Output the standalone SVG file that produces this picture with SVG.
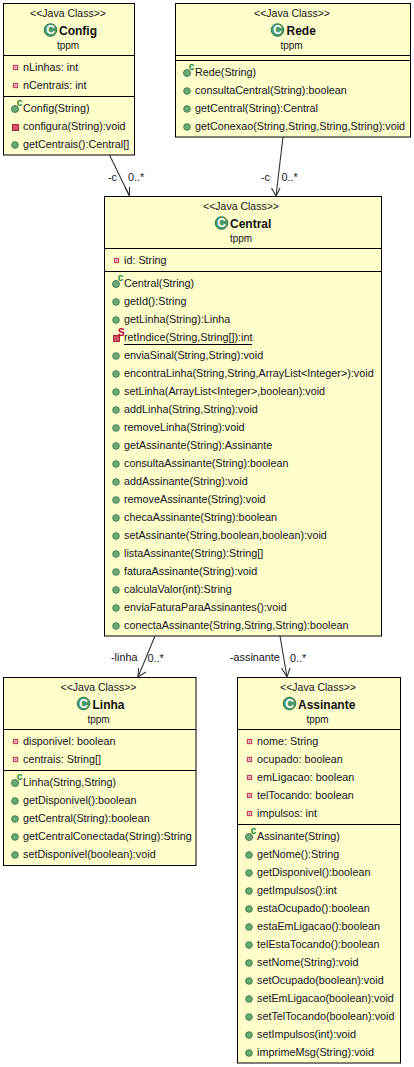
<svg xmlns="http://www.w3.org/2000/svg" width="414" height="1067" viewBox="0 0 414 1067">
<style>
text{font-family:"Liberation Sans",Arial,sans-serif;font-size:10.8px;fill:#14141e}
.box{fill:#ffffcc;stroke:#000;stroke-width:1}
.sep{stroke:#000;stroke-width:1;fill:none}
.m{text-anchor:middle}
.st{font-size:10.5px}
.nm{font-size:12px;font-weight:bold;fill:#111}
.pk{font-size:10px}
.ic{font-size:12px;font-weight:bold;fill:#fff;text-anchor:middle}
.cc{font-size:10px;font-weight:bold;fill:#1a8a3a}
.ss{font-size:10px;font-weight:bold;fill:#c00040}
.conn{stroke:#333;stroke-width:1.1;fill:none}
.ul{stroke:#000;stroke-width:1;fill:none}
</style>
<defs>
<circle id="cls" r="6.3" fill="#4b9a6c" stroke="#2f7a50" stroke-width="1"/>
<circle id="pub" r="3.3" fill="#6fa878" stroke="#3f8058" stroke-width="1"/>
<circle id="ctor" cy="0.500" r="3.5" fill="#6fa878" stroke="#3f8058" stroke-width="1"/>
<g id="pri"><rect x="-2" y="-2" width="4" height="4" fill="#fff" stroke="#c8405a" stroke-width="1.3"/><rect x="-0.700" y="-0.700" width="1.400" height="1.400" fill="#d04060"/></g>
<rect id="prm" x="-3" y="-3" width="6" height="6" fill="#d85068" stroke="#a82840" stroke-width="1"/>
</defs>
<g id="connectors">
<path class="conn" d="M109.500 155 129.500 196"/><path class="conn" d="M125 187 129.500 196 129.500 187"/>
<path class="conn" d="M283 137 276 196"/><path class="conn" d="M271.500 188 276 196 280 188"/>
<path class="conn" d="M155 636 138 677"/><path class="conn" d="M138.500 668 138 677 146 672"/>
<path class="conn" d="M280 636 287 677"/><path class="conn" d="M281.500 668 287 677 290 668"/>
<text x="108" y="181">-c</text><text x="128" y="181">0..*</text>
<text x="261" y="181">-c</text><text x="281.500" y="181">0..*</text>
<text x="111" y="661">-linha</text><text x="147.500" y="662">0..*</text>
<text x="230" y="661">-assinante</text><text x="290" y="662">0..*</text>
</g>
<g id="node-config">
<rect class="box" x="3.500" y="3.500" width="131" height="151.500"/>
<path class="sep" d="M3.500 55.500H134.500M3.500 96.500H134.500"/>
<text x="68" y="17" class="m st">&lt;&lt;Java Class&gt;&gt;</text>
<use href="#cls" x="50.500" y="30"/><text x="50.500" y="34.300" class="ic">C</text>
<text x="59" y="34.500" class="nm">Config</text>
<text x="68" y="49" class="m pk">tppm</text>
<use href="#pri" x="15.500" y="67.500"/><text x="23" y="71">nLinhas: int</text>
<use href="#pri" x="15.500" y="85.500"/><text x="23" y="89">nCentrais: int</text>
<use href="#ctor" x="15" y="108.500"/><text x="16.700" y="105.500" class="cc">c</text><text x="23" y="112">Config(String)</text>
<use href="#prm" x="15.500" y="127.500"/><text x="23" y="130">configura(String):void</text>
<use href="#pub" x="15" y="145"/><text x="23" y="148">getCentrais():Central[]</text>
</g>
<g id="node-rede">
<rect class="box" x="175.500" y="3.500" width="235" height="133.500"/>
<path class="sep" d="M175.500 55.500H410.500M175.500 60.500H410.500"/>
<text x="292" y="17" class="m st">&lt;&lt;Java Class&gt;&gt;</text>
<use href="#cls" x="277.500" y="30"/><text x="277.500" y="34.300" class="ic">C</text>
<text x="286.500" y="34.500" class="nm">Rede</text>
<text x="291.500" y="49" class="m pk">tppm</text>
<use href="#ctor" x="187" y="72.500"/><text x="188.700" y="69.500" class="cc">c</text><text x="195" y="76">Rede(String)</text>
<use href="#pub" x="187" y="91"/><text x="195" y="94">consultaCentral(String):boolean</text>
<use href="#pub" x="187" y="109"/><text x="195" y="112">getCentral(String):Central</text>
<use href="#pub" x="187" y="127"/><text x="195" y="130">getConexao(String,String,String,String):void</text>
</g>
<g id="node-central">
<rect class="box" x="104.500" y="196.500" width="277" height="439.500"/>
<path class="sep" d="M104.500 248.500H381.500M104.500 271.500H381.500"/>
<text x="241" y="210" class="m st">&lt;&lt;Java Class&gt;&gt;</text>
<use href="#cls" x="221.500" y="223"/><text x="221.500" y="227.300" class="ic">C</text>
<text x="230" y="227.500" class="nm">Central</text>
<text x="241" y="242" class="m pk">tppm</text>
<use href="#pri" x="116.500" y="260.500"/><text x="124" y="264">id: String</text>
<use href="#ctor" x="116" y="283.500"/><text x="117.700" y="280.500" class="cc">c</text><text x="124" y="287">Central(String)</text>
<use href="#pub" x="116" y="302"/><text x="124" y="305">getId():String</text>
<use href="#pub" x="116" y="320"/><text x="124" y="323">getLinha(String):Linha</text>
<use href="#prm" x="116.500" y="338.500"/><text x="118" y="336" class="ss">S</text><text x="124" y="341">retIndice(String,String[]):int</text><path class="ul" d="M124 344.500H252"/>
<use href="#pub" x="116" y="356"/><text x="124" y="359">enviaSinal(String,String):void</text>
<use href="#pub" x="116" y="374"/><text x="124" y="377">encontraLinha(String,String,ArrayList&lt;Integer&gt;):void</text>
<use href="#pub" x="116" y="392"/><text x="124" y="395">setLinha(ArrayList&lt;Integer&gt;,boolean):void</text>
<use href="#pub" x="116" y="410"/><text x="124" y="413">addLinha(String,String):void</text>
<use href="#pub" x="116" y="428"/><text x="124" y="431">removeLinha(String):void</text>
<use href="#pub" x="116" y="446"/><text x="124" y="449">getAssinante(String):Assinante</text>
<use href="#pub" x="116" y="464"/><text x="124" y="467">consultaAssinante(String):boolean</text>
<use href="#pub" x="116" y="482"/><text x="124" y="485">addAssinante(String):void</text>
<use href="#pub" x="116" y="500"/><text x="124" y="503">removeAssinante(String):void</text>
<use href="#pub" x="116" y="518"/><text x="124" y="521">checaAssinante(String):boolean</text>
<use href="#pub" x="116" y="536"/><text x="124" y="539">setAssinante(String,boolean,boolean):void</text>
<use href="#pub" x="116" y="554"/><text x="124" y="557">listaAssinante(String):String[]</text>
<use href="#pub" x="116" y="572"/><text x="124" y="575">faturaAssinante(String):void</text>
<use href="#pub" x="116" y="590"/><text x="124" y="593">calculaValor(int):String</text>
<use href="#pub" x="116" y="608"/><text x="124" y="611">enviaFaturaParaAssinantes():void</text>
<use href="#pub" x="116" y="626"/><text x="124" y="629">conectaAssinante(String,String,String):boolean</text>
</g>
<g id="node-linha">
<rect class="box" x="3.500" y="677.500" width="192.500" height="188"/>
<path class="sep" d="M3.500 729.500H196M3.500 770.500H196"/>
<text x="98.500" y="691" class="m st">&lt;&lt;Java Class&gt;&gt;</text>
<use href="#cls" x="83.500" y="703.500"/><text x="83.500" y="707.800" class="ic">C</text>
<text x="92.500" y="708.500" class="nm">Linha</text>
<text x="98.500" y="723" class="m pk">tppm</text>
<use href="#pri" x="15.500" y="741.500"/><text x="23" y="745">disponivel: boolean</text>
<use href="#pri" x="15.500" y="759.500"/><text x="23" y="763">centrais: String[]</text>
<use href="#ctor" x="15" y="782.500"/><text x="16.700" y="779.500" class="cc">c</text><text x="23" y="786">Linha(String,String)</text>
<use href="#pub" x="15" y="801"/><text x="23" y="804">getDisponivel():boolean</text>
<use href="#pub" x="15" y="819"/><text x="23" y="822">getCentral(String):boolean</text>
<use href="#pub" x="15" y="837"/><text x="23" y="840">getCentralConectada(String):String</text>
<use href="#pub" x="15" y="855"/><text x="23" y="858">setDisponivel(boolean):void</text>
</g>
<g id="node-assinante">
<rect class="box" x="237.500" y="677.500" width="163" height="385.500"/>
<path class="sep" d="M237.500 729.500H400.500M237.500 824.500H400.500"/>
<text x="318" y="691" class="m st">&lt;&lt;Java Class&gt;&gt;</text>
<use href="#cls" x="289.500" y="703.500"/><text x="289.500" y="707.800" class="ic">C</text>
<text x="298" y="708.500" class="nm">Assinante</text>
<text x="317.500" y="723" class="m pk">tppm</text>
<use href="#pri" x="249.500" y="741.500"/><text x="257" y="745">nome: String</text>
<use href="#pri" x="249.500" y="759.500"/><text x="257" y="763">ocupado: boolean</text>
<use href="#pri" x="249.500" y="777.500"/><text x="257" y="781">emLigacao: boolean</text>
<use href="#pri" x="249.500" y="795.500"/><text x="257" y="799">telTocando: boolean</text>
<use href="#pri" x="249.500" y="813.500"/><text x="257" y="817">impulsos: int</text>
<use href="#ctor" x="249" y="836.500"/><text x="250.700" y="833.500" class="cc">c</text><text x="257" y="840">Assinante(String)</text>
<use href="#pub" x="249" y="855"/><text x="257" y="858">getNome():String</text>
<use href="#pub" x="249" y="873"/><text x="257" y="876">getDisponivel():boolean</text>
<use href="#pub" x="249" y="891"/><text x="257" y="894">getImpulsos():int</text>
<use href="#pub" x="249" y="909"/><text x="257" y="912">estaOcupado():boolean</text>
<use href="#pub" x="249" y="927"/><text x="257" y="930">estaEmLigacao():boolean</text>
<use href="#pub" x="249" y="945"/><text x="257" y="948">telEstaTocando():boolean</text>
<use href="#pub" x="249" y="963"/><text x="257" y="966">setNome(String):void</text>
<use href="#pub" x="249" y="981"/><text x="257" y="984">setOcupado(boolean):void</text>
<use href="#pub" x="249" y="999"/><text x="257" y="1002">setEmLigacao(boolean):void</text>
<use href="#pub" x="249" y="1017"/><text x="257" y="1020">setTelTocando(boolean):void</text>
<use href="#pub" x="249" y="1035"/><text x="257" y="1038">setImpulsos(int):void</text>
<use href="#pub" x="249" y="1053"/><text x="257" y="1056">imprimeMsg(String):void</text>
</g>
</svg>
